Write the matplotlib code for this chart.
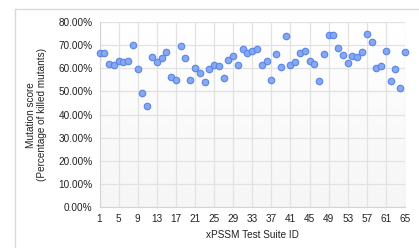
import matplotlib.pyplot as plt
import numpy as np

suite_ids = list(range(1, 66))
scores = [66.8, 66.8, 62.0, 61.3, 63.2, 62.9, 63.2, 69.9, 59.7, 49.5,
          43.6, 64.9, 62.8, 64.3, 66.9, 56.3, 55.0, 69.5, 64.3, 55.0,
          60.3, 58.0, 54.1, 59.7, 61.5, 61.0, 55.9, 63.6, 65.3, 61.5,
          68.5, 66.8, 67.5, 68.5, 61.6, 63.3, 55.1, 66.1, 60.5, 74.1,
          61.6, 62.8, 66.5, 67.6, 63.3, 61.8, 54.7, 66.3, 74.5, 74.3,
          68.7, 65.6, 62.5, 65.5, 64.9, 66.9, 75.0, 71.2, 60.3, 61.2,
          67.5, 54.4, 59.9, 51.7, 66.9]
x_ticks = list(range(1, 66, 4))
y_ticks = [0, 10, 20, 30, 40, 50, 60, 70, 80]

plt.rcParams['font.family'] = ['Liberation Sans', 'DejaVu Sans']

fig = plt.figure(figsize=(4.19, 2.48), dpi=100)
W, H = 419, 248
ax = fig.add_axes([99.5 / W, 1 - 207.3 / H, (405 - 99.5) / W, (207.3 - 22) / H])

# frame around the chart
fig.add_artist(plt.Line2D([15 / W, 15 / W], [0, 1 - 9 / H], color='#d9d9d9', lw=1))
fig.add_artist(plt.Line2D([15 / W, 1], [1 - 9 / H, 1 - 9 / H], color='#d9d9d9', lw=1))

# subtle background gradient
grad = np.linspace(1.0, 0.0, 100).reshape(-1, 1)
ax.imshow(grad, extent=[1, 65, 0, 80], aspect='auto', cmap='Greys_r',
          vmin=-12, vmax=1.0, zorder=0, origin='upper')

ax.scatter(suite_ids, scores, s=22, color='#86a8f2', edgecolor='#5a85e6',
           linewidth=0.8, zorder=3, clip_on=False)

ax.set_xlim(1, 65)
ax.set_ylim(0, 80)
ax.set_xticks(x_ticks)
ax.set_yticks(y_ticks)
ax.set_yticklabels(['%.2f%%' % v for v in y_ticks])
ax.grid(True, color='#e2e2e2', lw=0.9, zorder=1)
ax.set_axisbelow(True)
for s in ['top', 'right']:
    ax.spines[s].set_visible(False)
for s in ['left', 'bottom']:
    ax.spines[s].set_color('#d4d4d4')
ax.tick_params(length=0, labelsize=7.2, colors='#222222', pad=5)
ax.set_xlabel('xPSSM Test Suite ID', fontsize=7.2, color='#222222', labelpad=4)
ax.set_ylabel('Mutation score\n(Percentage of killed mutants)', fontsize=7.2,
              color='#222222', labelpad=8, linespacing=1.1)

fig.savefig('out.png', dpi=100)
